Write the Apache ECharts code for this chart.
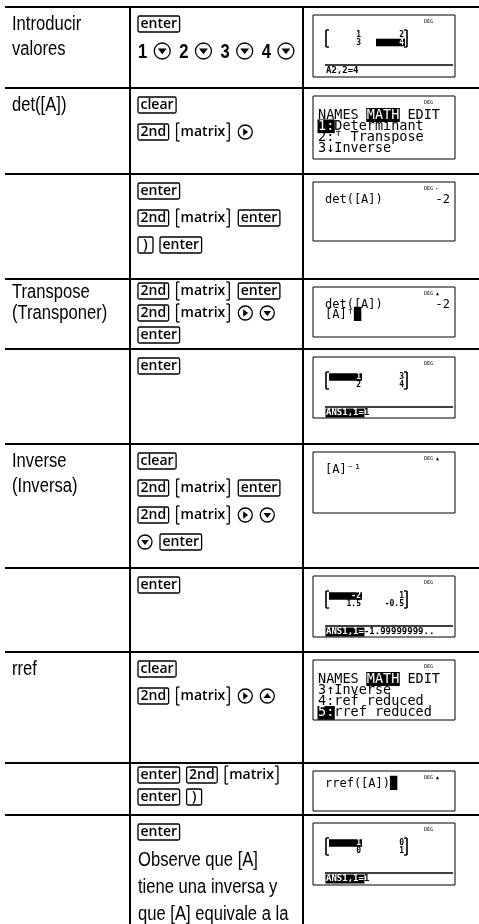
<!DOCTYPE html>
<html><head><meta charset="utf-8">
<script src="https://cdn.jsdelivr.net/npm/echarts@6/dist/echarts.min.js"></script>
<style>html,body{margin:0;padding:0;background:#fff}#c{width:479px;height:924px}</style>
</head><body><div id="c"></div>
<script>
// ---------- DATA ----------
const rowLabels = [["Introducir","valores"],["det([A])"],[],["Transpose","(Transponer)"],[],["Inverse","(Inversa)"],[],["rref"],[],[]];
// K:key box, B:[secondary], D/R/U: arrow circles, N: bold digit, T: plain text
const keySequences = [
  [["K:enter"],["N:1","D","N:2","D","N:3","D","N:4","D"]],
  [["K:clear"],["K:2nd","B:matrix","R"]],
  [["K:enter"],["K:2nd","B:matrix","K:enter"],["K:)","K:enter"]],
  [["K:2nd","B:matrix","K:enter"],["K:2nd","B:matrix","R","D"],["K:enter"]],
  [["K:enter"]],
  [["K:clear"],["K:2nd","B:matrix","K:enter"],["K:2nd","B:matrix","R","D"],["D","K:enter"]],
  [["K:enter"]],
  [["K:clear"],["K:2nd","B:matrix","R","U"]],
  [["K:enter","K:2nd","B:matrix"],["K:enter","K:)"]],
  [["K:enter"],["T:Observe que [A]"],["T:tiene una inversa y"],["T:que [A] equivale a la"]]
];
const screenMatrixCols = [[["1","3"],["2","4"]],null,null,null,[["1","2"],["3","4"]],null,[["-2","1.5"],["1","-0.5"]],null,null,[["1","0"],["0","1"]]];
const screenSelected = [[1,1],null,null,null,[0,0],null,[0,0],null,null,[0,0]];
const screenStatus = ["A2,2=4",null,null,null,"{ANS1,1=}1",null,"{ANS1,1=}-1.99999999..",null,null,"{ANS1,1=}1"];
const screenMenu = [null,["NAMES {MATH} EDIT","{1:}Determinant","2:ᵀ Transpose","3↓Inverse"],null,null,null,null,null,["NAMES {MATH} EDIT","3↑Inverse","4:ref reduced","{5:}rref reduced"],null,null];
const screenText = [null,null,["det([A])|-2"],["det([A])|-2","[A]ᵀ█"],null,["[A]⁻¹"],null,null,["rref([A])█"],null];
const screenIndicator = ["DEG","DEG","DEG ←","DEG ▲","DEG","DEG ▲","DEG","DEG","DEG ▲","DEG"];

// ---------- LAYOUT ----------
const ROW_TOPS = [7, 88, 174, 279, 349, 444, 568, 652, 763, 815];
const SCREEN_H = [62, 63, 59, 50, 61, 61, 61, 60, 40, 62];
const COMPACT = [false,false,false,true,false,false,false,false,true,false];
const COL1_X = 130, COL2_X = 303, LEFT = 5, RIGHT = 479, H = 924;

const G = [];
const ctx = document.createElement('canvas').getContext('2d');
function measure(s, font){ ctx.font = font; return ctx.measureText(s).width; }
function line(x1,y1,x2,y2,w){ G.push({type:'line',silent:true,shape:{x1,y1,x2,y2},style:{stroke:'#000',lineWidth:w}}); }
function rect(x,y,w,h,opt){ G.push({type:'rect',silent:true,shape:{x,y,width:w,height:h,r:opt.r||0},style:{fill:opt.fill||null,stroke:opt.stroke||null,lineWidth:opt.lw||1}}); }
function text(s,x,y,font,opt){
  opt = opt||{};
  G.push({type:'text',silent:true,x,y,scaleX:opt.sx||1,scaleY:opt.sy||1,z:opt.z||10,
    style:{text:s,x:0,y:0,font,fill:opt.fill||'#000',align:opt.align||'left',verticalAlign:'middle',textAlign:opt.align||'left',textVerticalAlign:'middle'}});
}
function circle(cx,cy,r){ G.push({type:'circle',silent:true,shape:{cx,cy,r},style:{fill:'#fff',stroke:'#000',lineWidth:1.3}}); }
function poly(pts){ G.push({type:'polygon',silent:true,z:11,shape:{points:pts},style:{fill:'#000'}}); }

const NARROW = "20px 'Liberation Sans', Arial, sans-serif", NSX = 0.83;
const KEYFONT = "600 14px 'Open Sans', sans-serif";
const NUMFONT = "bold 20px 'Liberation Sans', Arial, sans-serif";
const MONO = "'DejaVu Sans Mono', monospace";

// table rules
ROW_TOPS.forEach(y => line(LEFT, y, RIGHT, y, 2));
line(COL1_X, ROW_TOPS[0]-1, COL1_X, H, 2);
line(COL2_X, ROW_TOPS[0]-1, COL2_X, H, 2);

// column 1 labels
rowLabels.forEach((lbls, i) => {
  const first = COMPACT[i] ? 13 : 17, step = COMPACT[i] ? 21 : 25;
  lbls.forEach((s, j) => text(s, 12, ROW_TOPS[i] + first + j*step, NARROW, {sx:NSX}));
});

// column 2 key sequences
function arrow(cx, cy, r, dir){
  circle(cx, cy, r);
  const a = r*0.55, b = r*0.3;
  if(dir==='D') poly([[cx-a,cy-b],[cx+a,cy-b],[cx,cy+a*0.75]]);
  if(dir==='U') poly([[cx-a,cy+b],[cx+a,cy+b],[cx,cy-a*0.75]]);
  if(dir==='R') poly([[cx-b,cy-a],[cx-b,cy+a],[cx+a*0.75,cy]]);
}
keySequences.forEach((lines, i) => {
  const first = COMPACT[i] ? 12 : 17, step = COMPACT[i] ? 22 : 27;
  lines.forEach((toks, j) => {
    const cy = ROW_TOPS[i] + first + j*step;
    let cx = 138;
    toks.forEach(tok => {
      const kind = tok[0], label = tok.slice(2);
      if(kind==='K'){
        const w = Math.max(measure(label, KEYFONT) + 5, 15);
        rect(cx, cy-8, w, 16, {stroke:'#000', lw:1.3, r:1.5});
        text(label, cx + w/2, cy, KEYFONT, {align:'center'});
        cx += w + 7;
      } else if(kind==='B'){
        const tw = measure(label, KEYFONT);
        const w = tw + 10;
        line(cx+1, cy-9, cx+1, cy+9, 1.3); line(cx+1, cy-9, cx+4, cy-9, 1.3); line(cx+1, cy+9, cx+4, cy+9, 1.3);
        line(cx+w-1, cy-9, cx+w-1, cy+9, 1.3); line(cx+w-4, cy-9, cx+w-1, cy-9, 1.3); line(cx+w-4, cy+9, cx+w-1, cy+9, 1.3);
        text(label, cx + 5, cy, KEYFONT);
        cx += w + 8;
      } else if(kind==='N'){
        const w = measure(label, NUMFONT) * NSX;
        text(label, cx, cy + 1, NUMFONT, {sx:NSX});
        cx += w + 7;
      } else if(kind==='T'){
        text(label, cx, cy + 1, NARROW, {sx:NSX});
        cx += measure(label, NARROW)*NSX + 6;
      } else {
        const r = (i===0) ? 8 : 7;
        arrow(cx + r, cy, r, kind);
        cx += 2*r + (i===0 ? 9 : 8);
      }
    });
  });
});

// column 3 calculator screens
function invText(s, x, y, font, cw){
  let col = 0;
  s.split(/(\{[^}]*\})/).forEach(seg => {
    if(!seg) return;
    const inv = seg[0]==='{';
    const t = inv ? seg.slice(1,-1) : seg;
    if(inv){
      rect(x + col*cw - 0.5, y - 5.5*cw/6.5, t.length*cw + 1, 11*cw/6.5, {fill:'#000'});
      text(t, x + col*cw, y, font, {fill:'#fff', z:12});
    } else {
      text(t, x + col*cw, y, font);
    }
    col += [...t].length;
  });
}
ROW_TOPS.forEach((top, i) => {
  const x0 = 313, y0 = top + 8, w = 142, h = SCREEN_H[i];
  rect(x0, y0, w, h, {stroke:'#000', lw:1, fill:'#fff'});
  text(screenIndicator[i], 424, y0 + 7, "5px " + MONO);
  if(screenMatrixCols[i]){
    const cols = screenMatrixCols[i], sel = screenSelected[i];
    const f = "bold 8px " + MONO;
    [[326,1],[407,-1]].forEach(([bx,d]) => {
      line(bx, y0+15, bx, y0+32, 1.6); line(bx, y0+15, bx+3*d, y0+15, 1.4); line(bx, y0+32, bx+3*d, y0+32, 1.4);
    });
    const rights = [361, 404];
    cols.forEach((col, c) => {
      col.forEach((v, r) => {
        const y = y0 + 20 + r*7.5;
        const isSel = sel && sel[0]===c && sel[1]===r;
        if(isSel) rect(rights[c] - (c===0 ? 32 : 28), y - 3.8, (c===0 ? 33 : 29), 7.6, {fill:'#000'});
        text(v, rights[c], y, f, {align:'right', fill: isSel ? '#fff' : '#000', z:12});
      });
    });
    line(325, y0 + 50, 453, y0 + 50, 1.4);
    invText(screenStatus[i], 326, y0 + 56, "bold 9px " + MONO, 5.42);
  }
  if(screenMenu[i]){
    const cw = 8.13, f = "13.5px " + MONO;
    screenMenu[i].forEach((s, j) => invText(s, 318, y0 + 19 + j*11.3, f, cw));
  }
  if(screenText[i]){
    const f = "12px " + MONO;
    const base = (h < 45) ? 13 : 18;
    screenText[i].forEach((s, j) => {
      const [l, r] = s.split('|');
      text(l, 325, y0 + base + j*10, f);
      if(r) text(r, 450, y0 + base + j*10, f, {align:'right'});
    });
  }
});

const chart = echarts.init(document.getElementById('c'), null, {renderer:'canvas'});
chart.setOption({animation:false, backgroundColor:'#fff', graphic:{elements:G}});
</script></body></html>
